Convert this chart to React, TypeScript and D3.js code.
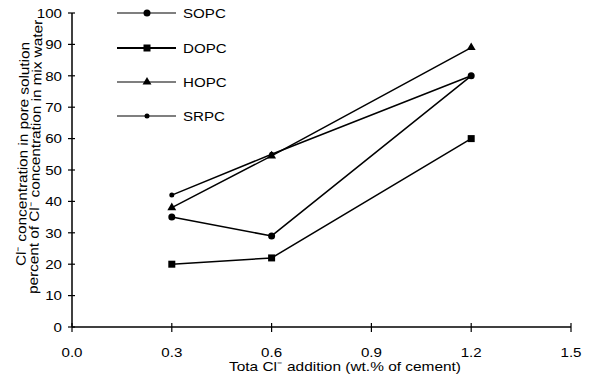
import React from "react";
import * as d3 from "d3";

const xValues = [0.3, 0.6, 1.2];
const seriesNames = ["SOPC", "DOPC", "HOPC", "SRPC"];
const sopc = [35, 29, 80];
const dopc = [20, 22, 60];
const hopc = [38, 54.5, 89];
const srpc = [42, 55, 80];
const xTicks = [0, 0.3, 0.6, 0.9, 1.2, 1.5];
const yTicks = [0, 10, 20, 30, 40, 50, 60, 70, 80, 90, 100];
const xTitle = "Tota Cl\u207B addition (wt.% of cement)";
const yTitle1 = "Cl\u207B concentration in pore solution";
const yTitle2 = "percent of Cl\u207B concentration in mix water";

const W = 594, H = 380;
const x = d3.scaleLinear().domain([0, 1.5]).range([72, 571]);
const y = d3.scaleLinear().domain([0, 100]).range([327, 13]);
const font = "'Liberation Sans', Arial, sans-serif";
const SX = 1.12;

const allSeries = [sopc, dopc, hopc, srpc];
const markers = ["circle", "square", "triangle", "dot"];
const legendY = [13, 48, 82, 116];

function Marker({ kind, cx, cy }: { kind: string; cx: number; cy: number }) {
  if (kind === "circle") return <circle cx={cx} cy={cy} r={3.5} fill="#000" />;
  if (kind === "square") return <rect x={cx - 3.5} y={cy - 3.5} width={7} height={7} fill="#000" />;
  if (kind === "triangle") {
    const p = d3.symbol(d3.symbolTriangle, 34)();
    return <path d={p || ""} transform={`translate(${cx},${cy})`} fill="#000" />;
  }
  return <circle cx={cx} cy={cy} r={2.5} fill="#000" />;
}

function T({ x0, y0, anchor, children, size = 13.5 }: { x0: number; y0: number; anchor?: string; children: any; size?: number }) {
  return (
    <text
      transform={`translate(${x0},${y0}) scale(${SX},1)`}
      textAnchor={anchor || "start"}
      fontFamily={font}
      fontSize={size}
      fill="#000"
    >
      {children}
    </text>
  );
}

export default function App() {
  const line = d3.line<number>().x((_, i) => x(xValues[i])).y((d) => y(d));
  return (
    <svg width={W} height={H} style={{ position: "absolute", left: 0, top: 0, background: "#fff" }}>
      <rect width={W} height={H} fill="#fff" />
      {/* axes */}
      <line x1={x(0)} x2={x(0)} y1={y(0)} y2={y(100)} stroke="#000" strokeWidth={1.5} />
      <line x1={x(0)} x2={x(1.5)} y1={y(0)} y2={y(0)} stroke="#000" strokeWidth={1.5} />
      {yTicks.map((t) => (
        <g key={"y" + t}>
          <line x1={x(0) - 4} x2={x(0) + 3} y1={y(t)} y2={y(t)} stroke="#000" strokeWidth={1.2} />
          <T x0={62} y0={y(t) + 4.8} anchor="end">{t}</T>
        </g>
      ))}
      {xTicks.map((t) => (
        <g key={"x" + t}>
          <line x1={x(t)} x2={x(t)} y1={y(0) - 4} y2={y(0) + 5} stroke="#000" strokeWidth={1.2} />
          <T x0={x(t)} y0={357} anchor="middle">{t.toFixed(1)}</T>
        </g>
      ))}
      <text x={345} y={371} textAnchor="middle" fontFamily={font} fontSize={13.5} fill="#000"
        textLength={232} lengthAdjust="spacingAndGlyphs">
        {xTitle}
      </text>
      <text transform="translate(27.5,154) rotate(-89)" textAnchor="middle" fontFamily={font} fontSize={13.5} fill="#000"
        textLength={224} lengthAdjust="spacingAndGlyphs">
        {yTitle1}
      </text>
      <text transform="translate(40,157) rotate(-89)" textAnchor="middle" fontFamily={font} fontSize={13.5} fill="#000"
        textLength={274} lengthAdjust="spacingAndGlyphs">
        {yTitle2}
      </text>
      {/* data */}
      {allSeries.map((s, si) => (
        <g key={seriesNames[si]}>
          <path d={line(s) || ""} fill="none" stroke="#000" strokeWidth={1.5} />
          {s.map((v, i) => (
            <Marker key={i} kind={markers[si]} cx={x(xValues[i])} cy={y(v)} />
          ))}
        </g>
      ))}
      {/* legend */}
      {seriesNames.map((n, i) => (
        <g key={"lg" + n}>
          <line x1={117} x2={176} y1={legendY[i]} y2={legendY[i]} stroke="#000" strokeWidth={i === 1 ? 1.8 : 1.1} />
          <Marker kind={markers[i]} cx={147} cy={legendY[i]} />
          <T x0={183} y0={legendY[i] + 5}>{n}</T>
        </g>
      ))}
    </svg>
  );
}
